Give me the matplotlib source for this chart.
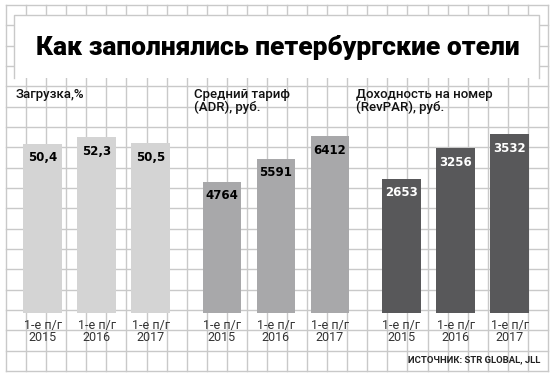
import matplotlib.pyplot as plt
from matplotlib.patches import Rectangle

# data
years = ['2015', '2016', '2017']
period = '1-е п/г'
occupancy = [50.4, 52.3, 50.5]
adr = [4764, 5591, 6412]
revpar = [2653, 3256, 3532]

title = 'Как заполнялись петербургские отели'
subtitles = ['Загрузка,%', 'Средний тариф\n(ADR), руб.', 'Доходность на номер\n(RevPAR), руб.']
source = 'ИСТОЧНИК: STR GLOBAL, JLL'

W, H = 556, 380
grid_col = '#c9c9c9'
plt.rcParams['font.family'] = ['Roboto', 'DejaVu Sans']

fig = plt.figure(figsize=(W / 100, H / 100), dpi=100)
fig.patch.set_facecolor('white')

# background sheet in pixel coords
bg = fig.add_axes([0, 0, 1, 1])
bg.set_xlim(0, W)
bg.set_ylim(H, 0)
bg.axis('off')

x0, x1, y0, y1 = 6, 548, 5, 371
nx, ny = 27, 18
for k in range(nx + 1):
    x = x0 + (x1 - x0) * k / nx
    bg.plot([x, x], [y0, y1], color=grid_col, lw=1, zorder=1)
for k in range(ny + 1):
    y = y0 + (y1 - y0) * k / ny
    bg.plot([x0, x1], [y, y], color=grid_col, lw=1, zorder=1)

# title box
bg.add_patch(Rectangle((14, 15), 525, 63, facecolor='white', edgecolor='none', zorder=2))
bg.plot([14, 14, 539, 539], [78, 15, 15, 78], color=grid_col, lw=1, zorder=3)
bg.text(278, 47, title, ha='center', va='center', fontsize=19, fontweight='heavy',
        color='black', zorder=4)

sub_x = [16, 194, 356]
for sx, s in zip(sub_x, subtitles):
    bg.text(sx, 88, s, ha='left', va='top', fontsize=9.5, fontweight='medium',
            color='#111111', linespacing=1.0, zorder=4)

bg.text(540, 360, source, ha='right', va='center', fontsize=6.8, fontweight='bold',
        color='#222222', zorder=4)

# bar panels
panels = [
    (15.5, occupancy, 54.5, '#d4d4d4', 'black', lambda v: f'{v:.1f}'.replace('.', ',')),
    (195.0, adr, 6638, '#a8a8aa', 'black', lambda v: f'{v}'),
    (374.5, revpar, 3617, '#58585a', 'white', lambda v: f'{v}'),
]
top_px, base_px, width_px = 130, 313, 162
for left, vals, ymax, col, tcol, fmt in panels:
    ax = fig.add_axes([left / W, (H - base_px) / H, width_px / W, (base_px - top_px) / H])
    ax.patch.set_visible(False)
    ax.axis('off')
    ax.set_xlim(-0.5, 2.5)
    ax.set_ylim(0, ymax)
    xs = range(len(vals))
    ax.bar(xs, vals, width=0.72, color=col)
    for i, v in zip(xs, vals):
        ax.annotate(fmt(v), (i, v), xytext=(0, -10), textcoords='offset points',
                    ha='center', va='center', fontsize=8.5, fontweight='bold',
                    family='DejaVu Sans', color=tcol)
        ax.annotate(f'{period}\n{years[i]}', (i, 0), xytext=(0, -4),
                    textcoords='offset points', ha='center', va='top',
                    fontsize=9, color='#333333', linespacing=0.95,
                    annotation_clip=False)

fig.savefig('out.png', dpi=100, facecolor='white')
